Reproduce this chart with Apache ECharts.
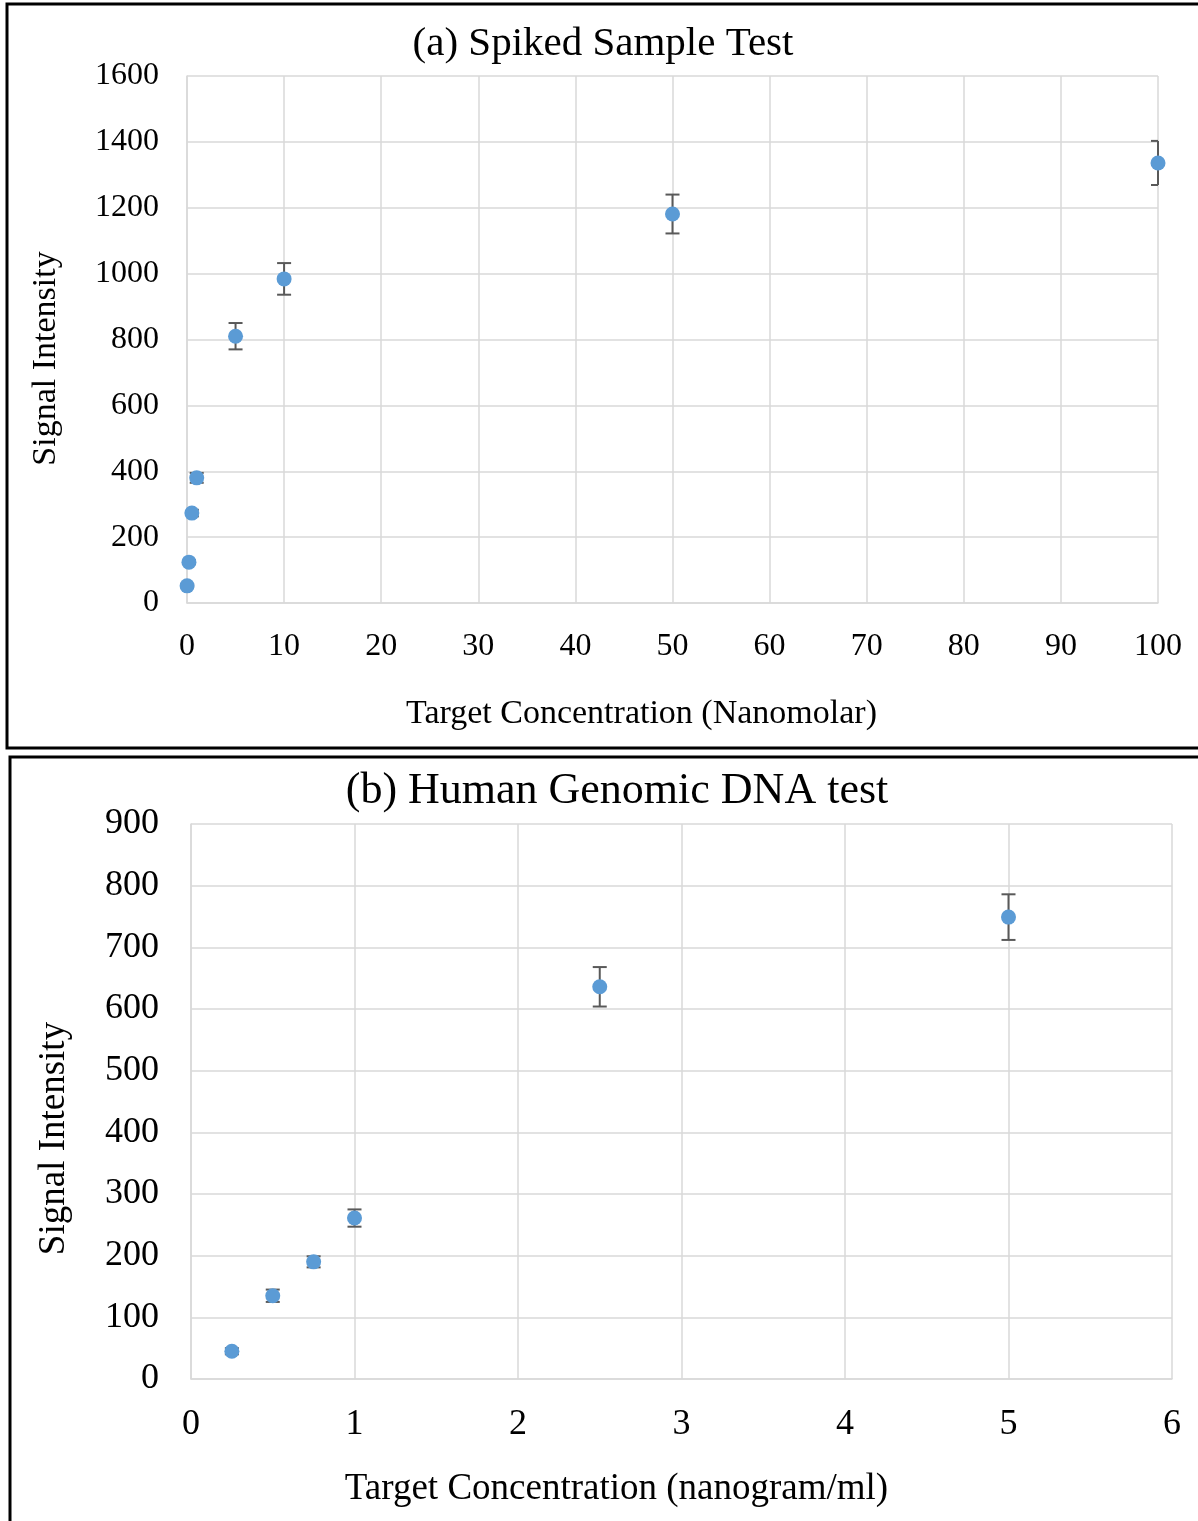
<!DOCTYPE html>
<html>
<head>
<meta charset="utf-8">
<script src="https://cdn.jsdelivr.net/npm/echarts@6/dist/echarts.min.js"></script>
<style>
  html, body { margin: 0; padding: 0; background: #fff; }
  #chart { width: 1198px; height: 1521px; }
</style>
</head>
<body>
<div id="chart"></div>
<script>
//  (a) 加标样品 —— 浓度 nM
const concA = [0.01, 0.2, 0.5, 1, 5, 10, 50, 100];
const signalA = [52, 124, 273, 380, 810, 984, 1181, 1336];
const errA = [4, 6, 10, 15, 40, 48, 59, 67];

//  (b) 人基因组 DNA —— 浓度 ng/ml
const concB = [0.25, 0.5, 0.75, 1, 2.5, 5];
const signalB = [45, 135, 190, 261, 636, 749];
const errB = [5, 10, 9, 14, 32, 37];

const serif = 'Liberation Serif';
const gridColor = '#d9d9d9';
const dotColor = '#5b9bd5';
const barColor = '#595959';

function pairs(xs, ys, es) {
    return xs.map((x, i) => es ? [x, ys[i], es[i]] : [x, ys[i]]);
}

//  误差线
function errorBarRender(params, api) {
    const x = api.value(0);
    const y = api.value(1);
    const e = api.value(2);
    const top = api.coord([x, y + e]);
    const bottom = api.coord([x, y - e]);
    const cs = params.coordSys;
    const half = 7;
    const l = Math.max(top[0] - half, cs.x);
    const r = Math.min(top[0] + half, cs.x + cs.width);
    const style = {stroke: barColor, lineWidth: 2};
    return {
        type: 'group',
        children: [
            {type: 'line', shape: {x1: top[0], y1: top[1], x2: bottom[0], y2: bottom[1]}, style: style},
            {type: 'line', shape: {x1: l, y1: top[1], x2: r, y2: top[1]}, style: style},
            {type: 'line', shape: {x1: l, y1: bottom[1], x2: r, y2: bottom[1]}, style: style},
        ]
    };
}

//  padding 用来把轴名称挪到和原图一样的位置
function xAxisOf(gridIndex, max, interval, name, labelSize, labelMargin, nameSize, nameGap, namePad) {
    return {
        gridIndex: gridIndex,
        type: 'value',
        min: 0,
        max: max,
        interval: interval,
        name: name,
        nameLocation: 'middle',
        nameGap: nameGap,
        nameTextStyle: {color: '#000', fontFamily: serif, fontSize: nameSize, padding: namePad},
        axisLine: {lineStyle: {color: gridColor, width: 1.5}},
        axisTick: {show: false},
        axisLabel: {color: '#000', fontFamily: serif, fontSize: labelSize, margin: labelMargin},
        splitLine: {show: true, lineStyle: {color: gridColor, width: 1.5}},
    };
}

function yAxisOf(gridIndex, max, interval, labelSize, labelMargin, nameSize, nameGap, namePad) {
    return {
        gridIndex: gridIndex,
        type: 'value',
        min: 0,
        max: max,
        interval: interval,
        name: 'Signal Intensity',
        nameLocation: 'middle',
        nameGap: nameGap,
        nameRotate: 90,
        nameTextStyle: {color: '#000', fontFamily: serif, fontSize: nameSize, padding: namePad},
        axisLine: {show: true, lineStyle: {color: gridColor, width: 1.5}},
        axisTick: {show: false},
        axisLabel: {
            color: '#000', fontFamily: serif, fontSize: labelSize, margin: labelMargin,
            formatter: function (value) {
                return String(value);
            }
        },
        splitLine: {show: true, lineStyle: {color: gridColor, width: 1.5}},
    };
}

const myChart = echarts.init(document.getElementById('chart'), null, {renderer: 'canvas'});
myChart.setOption({
    animation: false,
    backgroundColor: '#fff',
    title: [
        {
            text: '(a) Spiked Sample Test',
            left: 598, top: 19, textAlign: 'center',
            textStyle: {fontFamily: serif, fontWeight: 'normal', fontSize: 41, color: '#000'}
        },
        {
            text: '(b) Human Genomic DNA test',
            left: 612, top: 764, textAlign: 'center',
            textStyle: {fontFamily: serif, fontWeight: 'normal', fontSize: 44, color: '#000'}
        }
    ],
    grid: [
        {left: 187, top: 76, width: 971, height: 527},
        {left: 191, top: 824, width: 981, height: 555},
    ],
    xAxis: [
        xAxisOf(0, 100, 10, 'Target Concentration (Nanomolar)', 32, 28, 34, 94, [0, 62, 0, 0]),
        xAxisOf(1, 6, 1, 'Target Concentration (nanogram/ml)', 36, 28, 37, 92, [0, 130, 0, 0]),
    ],
    yAxis: [
        yAxisOf(0, 1600, 200, 32, 28, 34, 124, [0, 38, 0, 0]),
        yAxisOf(1, 900, 100, 36, 32, 37, 118, [0, 74, 0, 0]),
    ],
    series: [
        {
            type: 'custom',
            xAxisIndex: 0, yAxisIndex: 0,
            renderItem: errorBarRender,
            data: pairs(concA, signalA, errA),
            z: 2,
        },
        {
            type: 'scatter',
            xAxisIndex: 0, yAxisIndex: 0,
            symbol: 'circle', symbolSize: 15,
            clip: false,
            itemStyle: {color: dotColor, opacity: 1},
            data: pairs(concA, signalA),
            z: 3,
        },
        {
            type: 'custom',
            xAxisIndex: 1, yAxisIndex: 1,
            renderItem: errorBarRender,
            data: pairs(concB, signalB, errB),
            z: 2,
        },
        {
            type: 'scatter',
            xAxisIndex: 1, yAxisIndex: 1,
            symbol: 'circle', symbolSize: 15,
            clip: false,
            itemStyle: {color: dotColor, opacity: 1},
            data: pairs(concB, signalB),
            z: 3,
        },
    ],
    //  外框
    graphic: [
        {type: 'rect', shape: {x: 7, y: 4, width: 1200, height: 744}, style: {fill: null, stroke: '#000', lineWidth: 3}, silent: true},
        {type: 'rect', shape: {x: 10, y: 757, width: 1200, height: 780}, style: {fill: null, stroke: '#000', lineWidth: 3}, silent: true},
    ],
});
</script>
</body>
</html>
